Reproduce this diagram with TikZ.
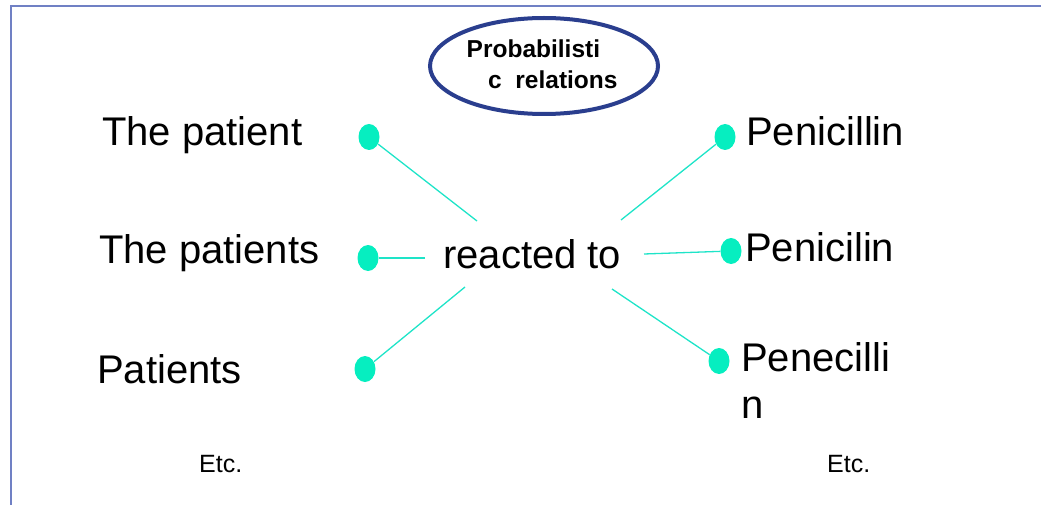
\documentclass[tikz,border=0pt]{standalone}
\usepackage{fontspec}
\setmainfont{Liberation Sans}
\usetikzlibrary{shapes.geometric}
\definecolor{dotc}{RGB}{6,238,192}
\definecolor{linec}{RGB}{30,228,200}
\definecolor{ellc}{RGB}{42,62,142}
\definecolor{framec}{RGB}{112,128,196}
\tikzset{
  word/.style={anchor=base west, inner sep=0pt, font=\fontsize{40}{47}\selectfont},
  small/.style={anchor=base west, inner sep=0pt, font=\fontsize{25}{29}\selectfont},
  ptitle/.style={anchor=base west, inner sep=0pt, font=\bfseries\fontsize{24.5}{31}\selectfont},
  blob/.style={ellipse, fill=dotc, inner sep=0pt, minimum width=21pt, minimum height=26pt},
  link/.style={draw=linec, line width=1.3pt},
}
\begin{document}
\begin{tikzpicture}[x=1pt,y=-1pt]
\useasboundingbox (0,0) rectangle (1041,505);
% frame
\draw[framec, line width=2pt] (11,505) -- (11,6.5) -- (1041,6.5);
% title ellipse
\node[ellipse, draw=ellc, line width=4pt, minimum width=228pt, minimum height=96pt, inner sep=0pt] (prob) at (544,66) {};
\node[ptitle] (probA) at (466.5,58) {Probabilisti};
\node[ptitle] (probB) at (488,89) {c~~relations};
% words
\node[word] (lA) at (102,146) {The patient};
\node[word] (lB) at (99,263) {The patients};
\node[word] (lC) at (97,383) {Patients};
\node[word] (mid) at (443,268) {reacted to};
\node[word] (rA) at (746,146) {Penicillin};
\node[word] (rB) at (745,261) {Penicilin};
\node[word] (rC) at (741,371) {Penecilli};
\node[word] (rC2) at (741,418) {n};
\node[small] (etcL) at (199,472) {Etc.};
\node[small] (etcR) at (827,472) {Etc.};
% connector ends near the verb
\coordinate (mA) at (477,221);
\coordinate (mB) at (425,258);
\coordinate (mC) at (465,287);
\coordinate (nA) at (621,220);
\coordinate (nB) at (644,254);
\coordinate (nC) at (612,289);
% dots
\node[blob] (dA) at (369,137) {};
\node[blob] (dB) at (368,258) {};
\node[blob] (dC) at (365,369) {};
\node[blob] (eA) at (725,137) {};
\node[blob] (eB) at (731,251) {};
\node[blob] (eC) at (719,361) {};
% connectors
\draw[link] (mA) -- (dA);
\draw[link] (mB) -- (dB);
\draw[link] (mC) -- (dC);
\draw[link] (nA) -- (eA);
\draw[link] (nB) -- (eB);
\draw[link] (nC) -- (eC);
\end{tikzpicture}
\end{document}
